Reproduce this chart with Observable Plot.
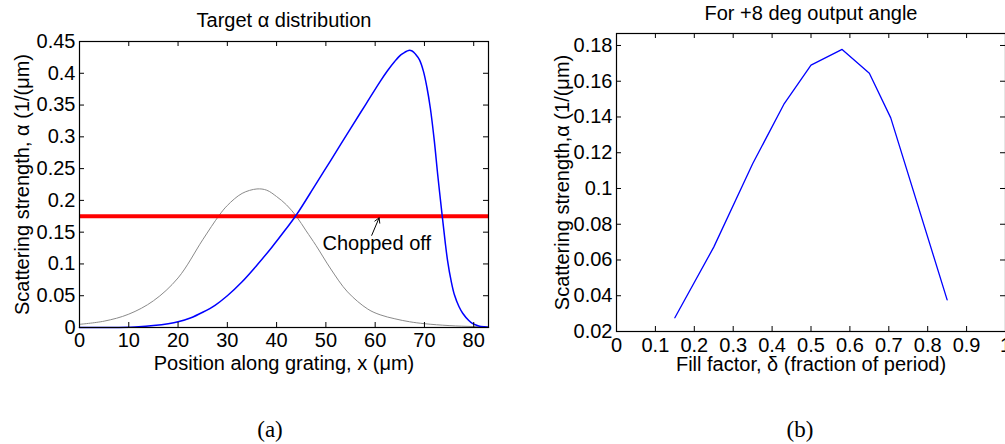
<!DOCTYPE html>
<html><head><meta charset="utf-8">
<script src="https://cdn.jsdelivr.net/npm/d3@7"></script>
<script src="https://cdn.jsdelivr.net/npm/@observablehq/plot@0.6"></script>
<style>
html,body{margin:0;padding:0;background:#fff;}
#wrap{position:relative;width:1005px;height:444px;overflow:hidden;background:#fff;}
#wrap svg{position:absolute;top:0;}
.cap{position:absolute;font-family:"Liberation Serif","Times New Roman",serif;font-size:23px;transform:translate(-50%,-50%);white-space:nowrap;color:#000;}
</style></head><body>
<div id="wrap"></div>
<script>
// ---- Panel (a) data ----
const targetX = [0, 5, 8, 10, 12, 15, 18, 20, 22.5, 25, 27.5, 30, 33, 36, 39, 41.7, 44, 48, 51, 55, 58, 61, 62.5, 64, 65.2, 66, 66.8, 67.5, 68.2, 69, 69.8, 70.5, 71.2, 72, 72.7, 73.6, 74.2, 74.7, 75.4, 76.1, 77, 77.8, 79, 79.8, 81, 82.2, 83];
const targetAlpha = [0, 0, 0.0001, 0.0004, 0.001, 0.003, 0.006, 0.009, 0.015, 0.024, 0.035, 0.050, 0.072, 0.098, 0.126, 0.153, 0.177, 0.226, 0.263, 0.313, 0.350, 0.387, 0.404, 0.419, 0.429, 0.433, 0.436, 0.435, 0.430, 0.421, 0.403, 0.378, 0.345, 0.294, 0.240, 0.176, 0.135, 0.105, 0.074, 0.051, 0.033, 0.022, 0.011, 0.006, 0.0025, 0.001, 0.0005];
const gaussX = [0, 5, 10, 15, 20, 25, 28.3, 30, 33, 36, 38, 40, 42, 44, 46, 48, 51, 54.4, 58.5, 61, 64, 67, 70, 75, 80, 83];
const gaussAlpha = [0.005, 0.010, 0.021, 0.042, 0.078, 0.138, 0.176, 0.192, 0.211, 0.218, 0.216, 0.206, 0.193, 0.175, 0.152, 0.129, 0.092, 0.056, 0.029, 0.020, 0.0137, 0.009, 0.006, 0.003, 0.0015, 0.001];
const chopLevel = [0.175];
const annotationText = ["Chopped off"];
const annotationTextPos = [49.3, 0.132];
const annotationArrow = [59.3, 0.145, 60.8, 0.1725];
const leftXTicks = [0, 10, 20, 30, 40, 50, 60, 70, 80];
const leftXTickLabels = ["0", "10", "20", "30", "40", "50", "60", "70", "80"];
const leftYTicks = [0, 0.05, 0.1, 0.15, 0.2, 0.25, 0.3, 0.35, 0.4, 0.45];
const leftYTickLabels = ["0", "0.05", "0.1", "0.15", "0.2", "0.25", "0.3", "0.35", "0.4", "0.45"];
const leftTitle = "Target \u03b1 distribution";
const leftXLabel = "Position along grating, x (\u03bcm)";
const leftYLabel = "Scattering strength, \u03b1 (1/(\u03bcm)";

// ---- Panel (b) data ----
const fillFactor = [0.15, 0.25, 0.35, 0.43, 0.5, 0.58, 0.65, 0.705, 0.85];
const fillAlpha = [0.0277, 0.0672, 0.1138, 0.147, 0.169, 0.1778, 0.1645, 0.1395, 0.0377];
const rightXTicks = [0, 0.1, 0.2, 0.3, 0.4, 0.5, 0.6, 0.7, 0.8, 0.9, 1];
const rightXTickLabels = ["0", "0.1", "0.2", "0.3", "0.4", "0.5", "0.6", "0.7", "0.8", "0.9", "1"];
const rightYTicks = [0.02, 0.04, 0.06, 0.08, 0.1, 0.12, 0.14, 0.16, 0.18];
const rightYTickLabels = ["0.02", "0.04", "0.06", "0.08", "0.1", "0.12", "0.14", "0.16", "0.18"];
const rightTitle = "For +8 deg output angle";
const rightXLabel = "Fill factor, \u03b4 (fraction of period)";
const rightYLabel = "Scattering strength,\u03b1 (1/(\u03bcm)";

const captions = ["(a)", "(b)"];

const FONT = '"Liberation Sans", Arial, Helvetica, sans-serif';
const fmt = (ticks, labels) => d => labels[ticks.findIndex(t => Math.abs(t - d) < 1e-9)];
const T = 5; // tick length (inward)

function panel({W, H, m, xDomain, yDomain, xTicks, xLabels, yTicks, yLabels, title, titleDy, xLabel, xLabelDy, yLabel, yLabelDx, tickPadX, dataMarks}) {
  const iw = W - m.l - m.r, ih = H - m.t - m.b;
  return Plot.plot({
    width: W, height: H,
    marginLeft: m.l, marginRight: m.r, marginTop: m.t, marginBottom: m.b,
    style: {fontFamily: FONT, fontSize: "20px", background: "white", color: "black", overflow: "visible"},
    x: {domain: xDomain},
    y: {domain: yDomain},
    marks: [
      ...dataMarks,
      Plot.frame({stroke: "black", strokeWidth: 1.2}),
      Plot.tickX(xTicks, {x: d => d, insetTop: ih - T, stroke: "black"}),
      Plot.tickX(xTicks, {x: d => d, insetBottom: ih - T, stroke: "black"}),
      Plot.tickY(yTicks, {y: d => d, insetRight: iw - T, stroke: "black"}),
      Plot.tickY(yTicks, {y: d => d, insetLeft: iw - T, stroke: "black"}),
      Plot.axisX({ticks: xTicks, tickSize: 0, tickPadding: tickPadX, tickFormat: fmt(xTicks, xLabels), label: null, fill: "black"}),
      Plot.axisY({ticks: yTicks, tickSize: 0, tickPadding: 4, tickFormat: fmt(yTicks, yLabels), label: null, fill: "black"}),
      Plot.text([title], {frameAnchor: "top", dy: titleDy, lineAnchor: "middle", textAnchor: "middle", fill: "black", fontSize: 20}),
      Plot.text([xLabel], {frameAnchor: "bottom", dy: xLabelDy, lineAnchor: "middle", textAnchor: "middle", fill: "black"}),
      Plot.text([yLabel], {frameAnchor: "left", dx: yLabelDx, rotate: -90, lineAnchor: "middle", textAnchor: "middle", fill: "black"})
    ]
  });
}

const left = panel({
  W: 500, H: 380, m: {l: 79, r: 12, t: 41, b: 53},
  xDomain: [0, 83], yDomain: [0, 0.45],
  xTicks: leftXTicks, xLabels: leftXTickLabels, yTicks: leftYTicks, yLabels: leftYTickLabels,
  title: leftTitle, titleDy: -21, xLabel: leftXLabel, xLabelDy: 36, yLabel: leftYLabel, yLabelDx: -57, tickPadX: 5,
  dataMarks: [
    Plot.line(gaussX.map((x, i) => ({x, y: gaussAlpha[i]})), {x: "x", y: "y", stroke: "#8a8a8a", strokeWidth: 1, curve: "catmull-rom"}),
    Plot.ruleY(chopLevel, {stroke: "#ff0000", strokeWidth: 4}),
    Plot.line(targetX.map((x, i) => ({x, y: targetAlpha[i]})), {x: "x", y: "y", stroke: "#0000ff", strokeWidth: 1.5, curve: "catmull-rom"}),
    Plot.arrow([annotationArrow], {x1: d => d[0], y1: d => d[1], x2: d => d[2], y2: d => d[3], stroke: "black", strokeWidth: 1, headLength: 8}),
    Plot.text(annotationText, {x: () => annotationTextPos[0], y: () => annotationTextPos[1], textAnchor: "start", lineAnchor: "middle", fill: "black", fontSize: 20})
  ]
});
left.style.left = "0px";

const right = panel({
  W: 505, H: 380, m: {l: 116, r: 0, t: 33, b: 49},
  xDomain: [0, 1], yDomain: [0.02, 0.1867],
  xTicks: rightXTicks, xLabels: rightXTickLabels, yTicks: rightYTicks, yLabels: rightYTickLabels,
  title: rightTitle, titleDy: -20, xLabel: rightXLabel, xLabelDy: 33, yLabel: rightYLabel, yLabelDx: -54, tickPadX: 6,
  dataMarks: [
    Plot.line(fillFactor.map((x, i) => ({x, y: fillAlpha[i]})), {x: "x", y: "y", stroke: "#0000ff", strokeWidth: 1.3})
  ]
});
right.style.left = "500px";

const wrap = document.getElementById("wrap");
wrap.appendChild(left);
wrap.appendChild(right);
const capX = [270, 800];
captions.forEach((c, i) => {
  const d = document.createElement("div");
  d.className = "cap";
  d.textContent = c;
  d.style.left = capX[i] + "px";
  d.style.top = "430px";
  wrap.appendChild(d);
});
</script>
</body></html>
